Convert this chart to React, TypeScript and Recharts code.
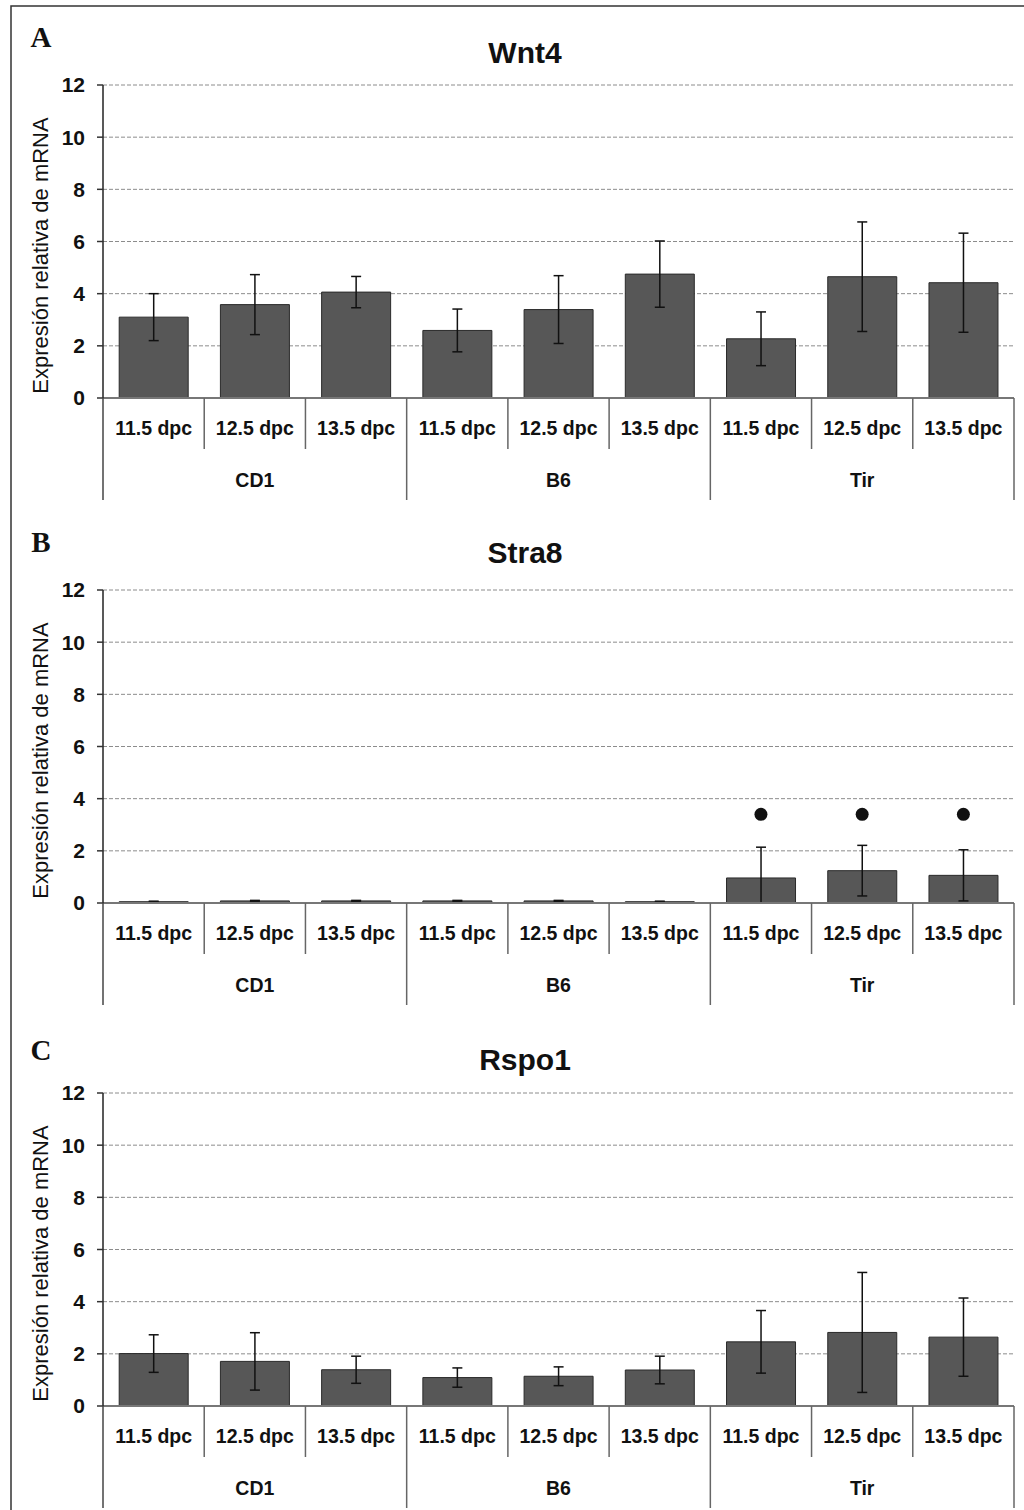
import { Bar, CartesianGrid, ComposedChart, ErrorBar, Line, XAxis, YAxis } from "recharts";

const GROUPS = ["CD1", "B6", "Tir"];
const STAGES = ["11.5 dpc", "12.5 dpc", "13.5 dpc"];
const Y_TICKS = [0, 2, 4, 6, 8, 10, 12];

const WNT4_MEAN = [3.1, 3.58, 4.06, 2.59, 3.39, 4.75, 2.27, 4.65, 4.42];
const WNT4_ERR = [0.9, 1.15, 0.6, 0.82, 1.3, 1.27, 1.03, 2.1, 1.9];

const STRA8_MEAN = [0.05, 0.08, 0.08, 0.08, 0.08, 0.05, 0.96, 1.24, 1.06];
const STRA8_ERR = [0.02, 0.02, 0.02, 0.02, 0.02, 0.02, 1.18, 0.97, 0.98];
// significance dots above the Tir bars
const STRA8_SIG = [null, null, null, null, null, null, 3.4, 3.4, 3.4];

const RSPO1_MEAN = [2.01, 1.71, 1.39, 1.09, 1.14, 1.38, 2.46, 2.82, 2.64];
const RSPO1_ERR = [0.72, 1.1, 0.52, 0.37, 0.36, 0.53, 1.2, 2.3, 1.5];

const W = 1024;
const PANEL_H = 505;
const PLOT_LEFT = 103;
const PLOT_RIGHT = 1014;
const BAND = (PLOT_RIGHT - PLOT_LEFT) / (GROUPS.length * STAGES.length);
const FONT = "'Liberation Sans', Arial, sans-serif";

function CategoryTick(props: any) {
  const { x, y, index } = props;
  const half = BAND / 2;
  const pos = index % STAGES.length;
  const group = GROUPS[Math.floor(index / STAGES.length)];
  return (
    <g>
      <text x={x} y={y + 37} textAnchor="middle" fontFamily={FONT} fontWeight="bold" fontSize={19.5} fill="#111">
        {STAGES[pos]}
      </text>
      {index === 0 && <line x1={x - half} x2={x - half} y1={y} y2={y + 102} stroke="#444" strokeWidth={1.5} />}
      {pos === STAGES.length - 1 ? (
        <line x1={x + half} x2={x + half} y1={y} y2={y + 102} stroke="#666" strokeWidth={1.5} />
      ) : (
        <line x1={x + half} x2={x + half} y1={y} y2={y + 51} stroke="#666" strokeWidth={1.5} />
      )}
      {pos === 1 && (
        <text x={x} y={y + 89} textAnchor="middle" fontFamily={FONT} fontWeight="bold" fontSize={19.5} fill="#111">
          {group}
        </text>
      )}
    </g>
  );
}

function YLabel(props: any) {
  const vb = props.viewBox || { x: 0, y: 85, width: PLOT_LEFT, height: 313 };
  const cx = vb.x + 48;
  const cy = vb.y + vb.height / 2 + 14;
  return (
    <text
      x={cx}
      y={cy}
      transform={`rotate(-90 ${cx} ${cy})`}
      textAnchor="middle"
      fontFamily={FONT}
      fontSize={22}
      fill="#111"
    >
      Expresión relativa de mRNA
    </text>
  );
}

interface PanelProps {
  top: number;
  letter: string;
  title: string;
  mean: number[];
  err: number[];
  sig?: (number | null)[];
  titleY: number;
  letterY: number;
}

function Panel({ top, letter, title, mean, err, sig, titleY, letterY }: PanelProps) {
  // lower whisker stops at the axis, as in the original plot
  const data = mean.map((v, i) => ({
    id: `${GROUPS[Math.floor(i / 3)]}-${STAGES[i % 3]}`,
    value: v,
    err: [Math.min(err[i], v), err[i]],
    sig: sig ? sig[i] : null,
  }));
  return (
    <div style={{ position: "absolute", left: 0, top, width: W, height: PANEL_H }}>
      <ComposedChart
        width={W}
        height={PANEL_H}
        data={data}
        margin={{ top: 85, right: W - PLOT_RIGHT, bottom: 0, left: 0 }}
        barCategoryGap="16%"
      >
        <CartesianGrid vertical={false} stroke="#8c8c8c" strokeDasharray="4 2" />
        <XAxis
          dataKey="id"
          height={107}
          interval={0}
          tickSize={0}
          tickMargin={0}
          tickLine={false}
          axisLine={{ stroke: "#777", strokeWidth: 2 }}
          tick={<CategoryTick />}
        />
        <YAxis
          width={PLOT_LEFT}
          domain={[0, 12]}
          allowDataOverflow
          ticks={Y_TICKS}
          interval={0}
          tickSize={6}
          tickMargin={12}
          axisLine={{ stroke: "#222", strokeWidth: 1.5 }}
          tickLine={{ stroke: "#333", strokeWidth: 1.5 }}
          tick={{ fontFamily: FONT, fontWeight: "bold", fontSize: 21, fill: "#111" }}
          label={<YLabel />}
        />
        <Bar dataKey="value" fill="#575757" stroke="#2a2a2a" strokeWidth={1} isAnimationActive={false}>
          <ErrorBar dataKey="err" width={5} stroke="#111" strokeWidth={1.5} />
        </Bar>
        {sig && (
          <Line
            dataKey="sig"
            stroke="none"
            dot={{ r: 6.5, fill: "#111", stroke: "none" }}
            activeDot={false}
            legendType="none"
            isAnimationActive={false}
          />
        )}
      </ComposedChart>
      <svg width={W} height={PANEL_H} style={{ position: "absolute", left: 0, top: 0, pointerEvents: "none" }}>
        <text x={41} y={letterY} textAnchor="middle" fontFamily="'Liberation Serif', serif" fontWeight="bold" fontSize={29} fill="#111">
          {letter}
        </text>
        <text x={525} y={titleY} textAnchor="middle" fontFamily={FONT} fontWeight="bold" fontSize={30} fill="#111">
          {title}
        </text>
      </svg>
    </div>
  );
}

export default function App() {
  return (
    <div style={{ position: "absolute", left: 0, top: 0, width: W, height: 1510, overflow: "hidden", background: "#fff" }}>
      <Panel top={0} letter="A" title="Wnt4" mean={WNT4_MEAN} err={WNT4_ERR} titleY={63} letterY={47} />
      <Panel top={505} letter="B" title="Stra8" mean={STRA8_MEAN} err={STRA8_ERR} sig={STRA8_SIG} titleY={58} letterY={47} />
      <Panel top={1008} letter="C" title="Rspo1" mean={RSPO1_MEAN} err={RSPO1_ERR} titleY={62} letterY={52} />
      <svg width={W} height={1510} style={{ position: "absolute", left: 0, top: 0, pointerEvents: "none" }}>
        <polyline points={`11,1510 11,6 ${W},6`} fill="none" stroke="#333" strokeWidth={1.5} />
      </svg>
    </div>
  );
}
